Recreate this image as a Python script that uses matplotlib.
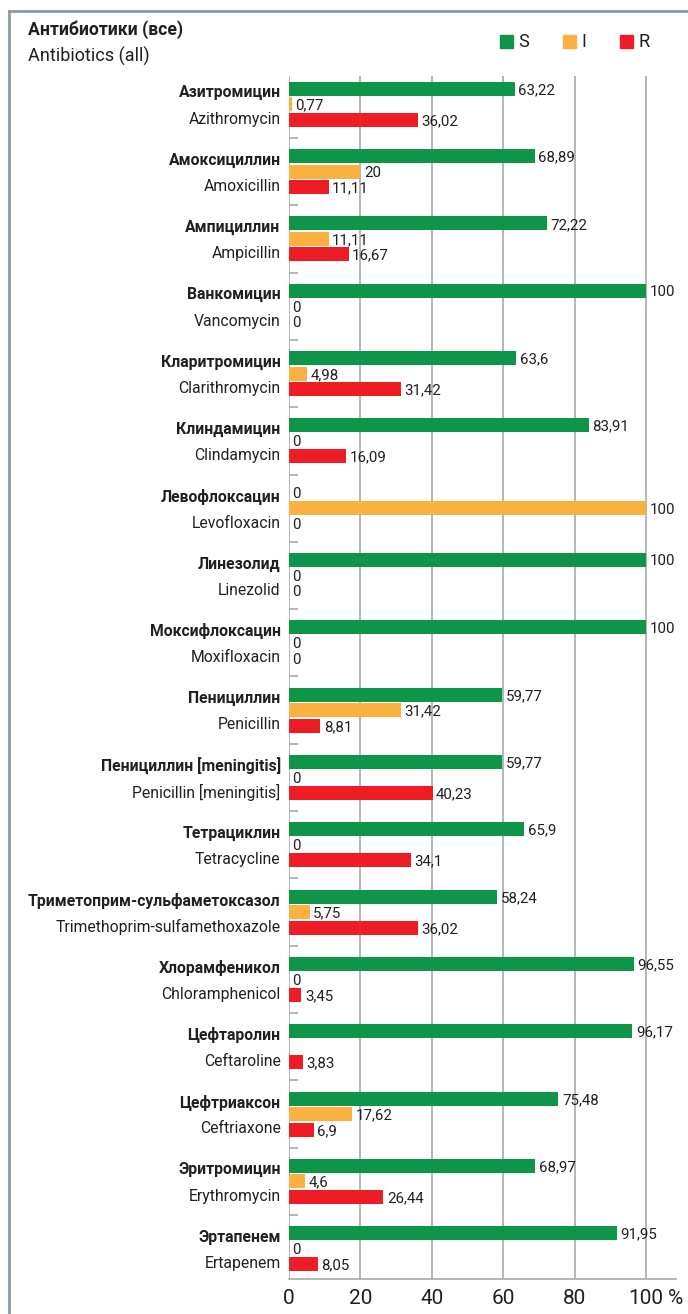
import matplotlib
matplotlib.use('Agg')
import matplotlib.pyplot as plt
import numpy as np

plt.rcParams['font.family'] = ['Roboto', 'DejaVu Sans']

names_ru = ['Азитромицин', 'Амоксициллин', 'Ампициллин', 'Ванкомицин',
            'Кларитромицин', 'Клиндамицин', 'Левофлоксацин', 'Линезолид',
            'Моксифлоксацин', 'Пенициллин', 'Пенициллин [meningitis]',
            'Тетрациклин', 'Триметоприм-сульфаметоксазол', 'Хлорамфеникол',
            'Цефтаролин', 'Цефтриаксон', 'Эритромицин', 'Эртапенем']
names_en = ['Azithromycin', 'Amoxicillin', 'Ampicillin', 'Vancomycin',
            'Clarithromycin', 'Clindamycin', 'Levofloxacin', 'Linezolid',
            'Moxifloxacin', 'Penicillin', 'Penicillin [meningitis]',
            'Tetracycline', 'Trimethoprim-sulfamethoxazole', 'Chloramphenicol',
            'Ceftaroline', 'Ceftriaxone', 'Erythromycin', 'Ertapenem']
S = [63.22, 68.89, 72.22, 100, 63.6, 83.91, 0, 100, 100, 59.77, 59.77,
     65.9, 58.24, 96.55, 96.17, 75.48, 68.97, 91.95]
I = [0.77, 20, 11.11, 0, 4.98, 0, 100, 0, 0, 31.42, 0,
     0, 5.75, 0, None, 17.62, 4.6, 0]
R = [36.02, 11.11, 16.67, 0, 31.42, 16.09, 0, 0, 0, 8.81, 40.23,
     34.1, 36.02, 3.45, 3.83, 6.9, 26.44, 8.05]
xticks = [0, 20, 40, 60, 80, 100]

series = [('S', S, '#0f9547'), ('I', I, '#fbb040'), ('R', R, '#ee1d25')]
txt = '#231f20'
grid_c = '#a7a9ac'

fig = plt.figure(figsize=(6.88, 13.14), dpi=100)
ax = fig.add_axes([289/688, 1 - 1279/1314, 387/688, (1279 - 76)/1314])

n = len(names_ru)
y = np.arange(n)
off = 0.23
h = 0.208

def fmt(v):
    return ('%g' % v).replace('.', ',')

for k, (lab, vals, col) in enumerate(series):
    yy = y + (k - 1) * off
    for yi, v in zip(yy, vals):
        if v is None:
            continue
        ax.barh(yi, v, height=h, color=col, zorder=3)
        ax.annotate(fmt(v), (v, yi), xytext=(2.5, -1), textcoords='offset points',
                    ha='left', va='center', fontsize=10.8, color=txt)

for yi, ru, en in zip(y, names_ru, names_en):
    ax.annotate(ru, (0, yi - 0.17), xytext=(-6, 0), textcoords='offset points',
                ha='right', va='center', fontsize=11.3, fontweight='bold', color=txt)
    ax.annotate(en, (0, yi + 0.22), xytext=(-6, 0), textcoords='offset points',
                ha='right', va='center', fontsize=11.3, color=txt)

ax.set_xlim(0, 108.4)
ax.set_ylim(n - 0.55, -0.42)
ax.set_xticks(xticks)
ax.set_xticklabels([str(t) for t in xticks])
ax.annotate('%', (100, 0), xycoords=ax.get_xaxis_transform(), xytext=(16, -7),
            textcoords='offset points', ha='left', va='top', fontsize=15, color=txt)
ax.xaxis.grid(True, color=grid_c, linewidth=1.2, zorder=0)
ax.tick_params(axis='x', length=0, labelsize=15, labelcolor=txt, pad=7)
ax.set_yticks(y[:-1] + 0.5)
ax.set_yticklabels([])
ax.tick_params(axis='y', direction='in', length=6.5, width=1.2, color=grid_c)
for s in ['top', 'right', 'left']:
    ax.spines[s].set_visible(False)
ax.spines['bottom'].set_color(grid_c)
ax.spines['bottom'].set_linewidth(1.2)

# title
fig.text(28/688, 1 - 30/1314, 'Антибиотики (все)', fontsize=12.7, fontweight='bold',
         color=txt, va='center', ha='left')
fig.text(28/688, 1 - 56/1314, 'Antibiotics (all)', fontsize=13,
         color=txt, va='center', ha='left')

# legend
for (lab, vals, col), x0 in zip(series, [500, 563, 620]):
    fig.patches.append(plt.Rectangle((x0/688, 1 - 48/1314), 13/688, 13/1314,
                                     transform=fig.transFigure, color=col))
    fig.text((x0 + 18)/688, 1 - 42/1314, lab, fontsize=13, color=txt,
             va='center', ha='left')

# frame
fig.add_artist(plt.Line2D([9/688, 9/688], [0, 1 - 11/1314], transform=fig.transFigure,
                          color='#8c99a6', linewidth=2))
fig.add_artist(plt.Line2D([9/688, 1], [1 - 11/1314, 1 - 11/1314], transform=fig.transFigure,
                          color='#8c99a6', linewidth=2))

fig.savefig('out.png', dpi=100)
